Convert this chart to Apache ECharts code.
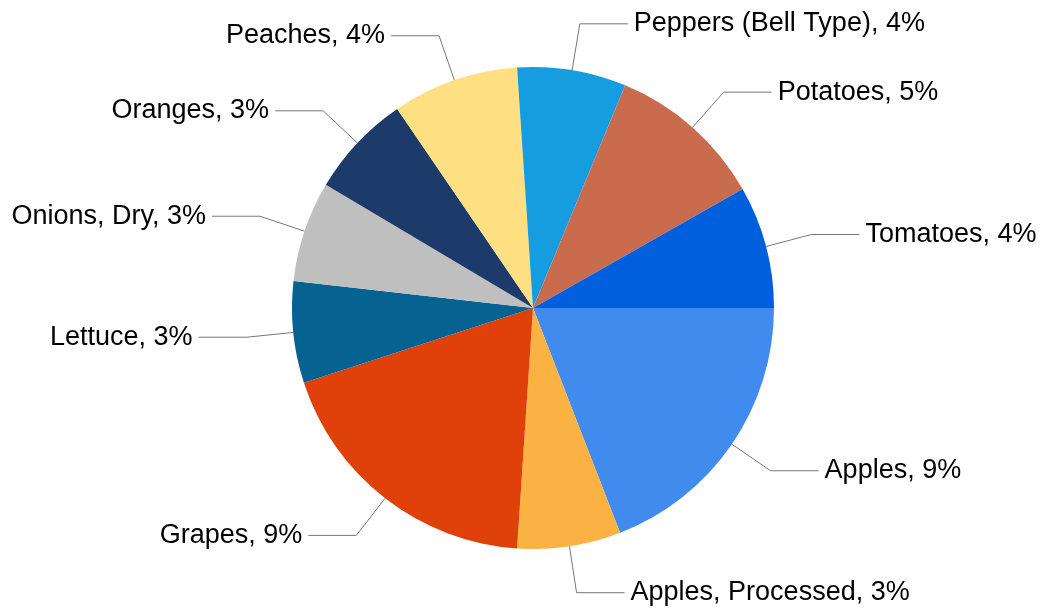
<!DOCTYPE html>
<html>
<head>
<meta charset="utf-8">
<script src="https://cdn.jsdelivr.net/npm/echarts@6/dist/echarts.min.js"></script>
<style>
    html, body { margin: 0; padding: 0; background: #fff; }
    #chart { width: 1042px; height: 611px; }
</style>
</head>
<body>
<div id="chart"></div>
<script>
// 数据
const categories = ['Apples', 'Apples, Processed', 'Grapes', 'Lettuce', 'Onions, Dry', 'Oranges', 'Peaches', 'Peppers (Bell Type)', 'Potatoes', 'Tomatoes']
const shares = [8.98, 3.26, 8.89, 3.20, 3.17, 3.26, 3.98, 3.43, 4.95, 3.86]
const labelPercents = ['9%', '3%', '9%', '3%', '3%', '3%', '4%', '4%', '5%', '4%']

// 颜色
const colors = ['#418aee', '#fab343', '#e0410a', '#066391', '#bfbfbf', '#1c3a6a', '#fee083', '#159ddf', '#c96b4d', '#005fdd']

let myChart = echarts.init(document.getElementById('chart'))
let option = {
    animation: false,
    color: colors,
    series: [
        {
            type: 'pie',
            center: [533, 308],
            radius: 241,
            startAngle: 0,
            clockwise: true,
            avoidLabelOverlap: false,
            data: categories.map((name, i) => ({ name: name, value: shares[i] })),
            label: {
                show: true,
                color: '#000',
                fontSize: 27,
                fontFamily: 'Liberation Sans, Arial, sans-serif',
                alignTo: 'none',
                distanceToLabelLine: 6,
                formatter: function (p) {
                    return p.name + ', ' + labelPercents[p.dataIndex]
                }
            },
            labelLine: {
                show: true,
                length: 47,
                length2: 48,
                smooth: false,
                lineStyle: {
                    color: '#777',
                    width: 1
                }
            },
            itemStyle: {
                borderWidth: 0
            },
            emphasis: { disabled: true }
        }
    ]
}
myChart.setOption(option)
</script>
</body>
</html>
